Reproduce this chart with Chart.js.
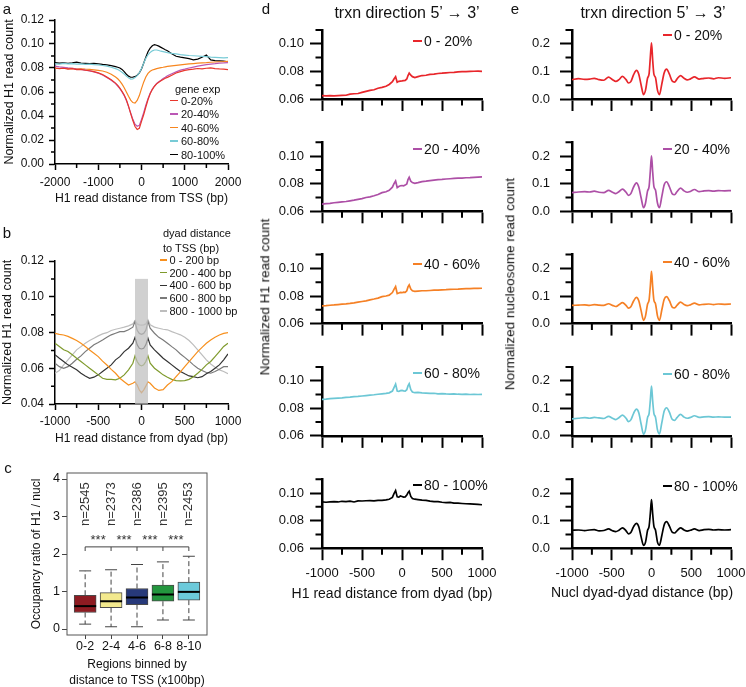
<!DOCTYPE html>
<html>
<head>
<meta charset="utf-8">
<script src="https://cdn.jsdelivr.net/npm/chart.js@4.4.1/dist/chart.umd.min.js"></script>
<style>
  html, body { margin: 0; padding: 0; background: #fff; overflow: hidden; }
  #fig { position: relative; width: 746px; height: 687px; overflow: hidden;
         font-family: "Liberation Sans", Arial, sans-serif; color: #111; }
  #fig canvas { position: absolute; left: 0; top: 0; }
  .txt { position: absolute; white-space: nowrap; line-height: 1; }
</style>
</head>
<body>
<div id="fig"></div>
<script>
// ---------- panel a : H1 profile around TSS by gene expression ----------
const aX = [-2000,-1900,-1800,-1700,-1600,-1500,-1400,-1300,-1200,-1100,-1000,-900,-800,-700,-600,
  -550,-500,-450,-400,-350,-300,-250,-200,-150,-100,-50,0,50,100,150,200,250,300,350,400,450,500,550,600,
  700,800,900,1000,1100,1200,1300,1400,1500,1600,1700,1800,1900,2000];
const aNames = ["0-20%", "20-40%", "40-60%", "60-80%", "80-100%"];
const aExp0 = [0.0800,0.0795,0.0798,0.0790,0.0794,0.0786,0.0788,0.0781,0.0777,0.0770,0.0760,0.0745,0.0724,0.0702,0.0674,
  0.0655,0.0632,0.0605,0.0575,0.0535,0.0482,0.0420,0.0362,0.0312,0.0288,0.0298,0.0355,0.0410,0.0475,0.0535,0.0585,0.0620,0.0648,0.0668,0.0682,0.0693,0.0705,0.0714,0.0722,
  0.0740,0.0758,0.0770,0.0780,0.0786,0.0790,0.0796,0.0793,0.0798,0.0801,0.0795,0.0792,0.0790,0.0786];
const aExp20 = [0.0815,0.0810,0.0806,0.0801,0.0798,0.0791,0.0788,0.0782,0.0776,0.0768,0.0757,0.0742,0.0720,0.0698,0.0670,
  0.0650,0.0628,0.0600,0.0570,0.0530,0.0478,0.0425,0.0372,0.0332,0.0315,0.0322,0.0372,0.0428,0.0490,0.0545,0.0590,0.0625,0.0650,0.0672,0.0686,0.0698,0.0712,0.0722,0.0735,
  0.0752,0.0768,0.0782,0.0790,0.0800,0.0808,0.0816,0.0822,0.0828,0.0833,0.0836,0.0840,0.0842,0.0845];
const aExp40 = [0.0798,0.0796,0.0800,0.0795,0.0797,0.0792,0.0793,0.0790,0.0788,0.0785,0.0780,0.0775,0.0765,0.0748,0.0725,
  0.0710,0.0690,0.0665,0.0636,0.0600,0.0565,0.0532,0.0512,0.0508,0.0530,0.0570,0.0628,0.0682,0.0725,0.0755,0.0773,0.0783,0.0789,0.0795,0.0799,0.0803,0.0806,0.0810,0.0813,
  0.0818,0.0822,0.0826,0.0830,0.0834,0.0837,0.0840,0.0843,0.0845,0.0848,0.0850,0.0852,0.0853,0.0855];
const aExp60 = [0.0835,0.0832,0.0838,0.0834,0.0836,0.0833,0.0835,0.0830,0.0832,0.0828,0.0826,0.0821,0.0815,0.0806,0.0795,
  0.0788,0.0778,0.0765,0.0750,0.0733,0.0718,0.0708,0.0710,0.0720,0.0736,0.0760,0.0795,0.0840,0.0880,0.0910,0.0930,0.0943,0.0950,0.0950,0.0946,0.0940,0.0936,0.0932,0.0928,
  0.0922,0.0917,0.0912,0.0908,0.0904,0.0902,0.0900,0.0897,0.0894,0.0890,0.0888,0.0886,0.0884,0.0887];
const aExp80 = [0.0845,0.0840,0.0843,0.0838,0.0842,0.0849,0.0840,0.0838,0.0836,0.0838,0.0835,0.0830,0.0826,0.0820,0.0812,
  0.0806,0.0800,0.0788,0.0770,0.0748,0.0732,0.0723,0.0724,0.0728,0.0740,0.0760,0.0792,0.0840,0.0890,0.0935,0.0965,0.0985,0.0995,0.0990,0.0982,0.0972,0.0962,0.0952,0.0944,
  0.0918,0.0898,0.0890,0.0884,0.0878,0.0868,0.0874,0.0890,0.0908,0.0868,0.0862,0.0860,0.0857,0.0852];
const aXTicks = [-2000, -1000, 0, 1000, 2000];
const aXMinor = [-1500, -500, 500, 1500];
const aYTicks = [0, 0.02, 0.04, 0.06, 0.08, 0.10, 0.12];
const aYMinor = [0.01, 0.03, 0.05, 0.07, 0.09, 0.11];

// ---------- panel b : H1 profile around dyads ----------
const bX = [-1000,-950,-900,-850,-800,-750,-700,-650,-600,-550,-500,-450,-400,-350,-300,-250,-200,-150,-100,
  -75,-50,-25,0,25,50,75,
  100,150,200,250,300,350,400,450,500,550,600,650,700,750,800,850,900,950,1000];
const bNames = ["0 - 200 bp", "200 - 400 bp", "400 - 600 bp", "600 - 800 bp", "800 - 1000 bp"];
const bD0 = [0.0795,0.0790,0.0786,0.0778,0.0767,0.0755,0.0740,0.0722,0.0702,0.0684,0.0665,0.0640,0.0618,0.0594,0.0572,0.0544,0.0525,0.0506,0.0516,
  0.0524,0.0506,0.0478,0.0463,0.0478,0.0500,0.0524,
  0.0516,0.0490,0.0476,0.0480,0.0506,0.0525,0.0553,0.0580,0.0609,0.0637,0.0665,0.0693,0.0717,0.0740,0.0758,0.0773,0.0786,0.0795,0.0799];
const bD200 = [0.0740,0.0722,0.0703,0.0694,0.0675,0.0656,0.0638,0.0619,0.0600,0.0582,0.0563,0.0544,0.0538,0.0538,0.0535,0.0544,0.0563,0.0591,0.0628,
  0.0669,0.0638,0.0619,0.0613,0.0619,0.0638,0.0669,
  0.0628,0.0600,0.0582,0.0563,0.0550,0.0538,0.0531,0.0529,0.0531,0.0538,0.0553,0.0572,0.0594,0.0619,0.0638,0.0665,0.0693,0.0722,0.0740];
const bD400 = [0.0675,0.0656,0.0638,0.0619,0.0606,0.0591,0.0572,0.0557,0.0544,0.0550,0.0563,0.0582,0.0600,0.0619,0.0647,0.0665,0.0693,0.0712,0.0740,
  0.0773,0.0731,0.0712,0.0708,0.0712,0.0731,0.0768,
  0.0731,0.0703,0.0680,0.0656,0.0638,0.0619,0.0600,0.0582,0.0569,0.0557,0.0553,0.0547,0.0553,0.0569,0.0582,0.0600,0.0619,0.0647,0.0680];
const bD600 = [0.0628,0.0609,0.0600,0.0609,0.0628,0.0650,0.0669,0.0693,0.0712,0.0731,0.0744,0.0758,0.0773,0.0787,0.0796,0.0805,0.0805,0.0815,0.0830,
  0.0861,0.0812,0.0795,0.0790,0.0795,0.0812,0.0861,
  0.0824,0.0796,0.0773,0.0758,0.0740,0.0721,0.0703,0.0680,0.0661,0.0641,0.0619,0.0600,0.0587,0.0576,0.0572,0.0582,0.0594,0.0609,0.0609];
const bD800 = [0.0572,0.0587,0.0619,0.0647,0.0675,0.0703,0.0721,0.0740,0.0755,0.0768,0.0781,0.0792,0.0799,0.0811,0.0818,0.0824,0.0830,0.0837,0.0848,
  0.0867,0.0848,0.0843,0.0841,0.0843,0.0848,0.0871,
  0.0843,0.0830,0.0824,0.0818,0.0815,0.0805,0.0796,0.0787,0.0773,0.0755,0.0731,0.0703,0.0675,0.0647,0.0624,0.0606,0.0591,0.0582,0.0569];
const bBand = [-75, 75];
const bBandTop = 0.11;
const bXTicks = [-1000, -500, 0, 500, 1000];
const bXMinor = [-750, -250, 250, 750];
const bYTicks = [0.04, 0.06, 0.08, 0.10, 0.12];
const bYMinor = [0.05, 0.07, 0.09, 0.11];

// ---------- panel c : occupancy ratio box plot ----------
const boxCats = ["0-2", "2-4", "4-6", "6-8", "8-10"];
const boxQ1 = [0.44, 0.57, 0.65, 0.74, 0.77];
const boxMed = [0.61, 0.74, 0.84, 0.92, 0.99];
const boxQ3 = [0.90, 0.97, 1.08, 1.17, 1.25];
const whiskLo = [0.13, 0.06, 0.06, 0.24, 0.24];
const whiskHi = [1.55, 1.58, 1.72, 1.79, 1.94];
const nCounts = [2545, 2373, 2386, 2395, 2453];
const cYTicks = [0, 1, 2, 3, 4];

// ---------- panel d : H1 around dyads, by expression ----------
const expNames = ["0 - 20%", "20 - 40%", "40 - 60%", "60 - 80%", "80 - 100%"];
const dX = [-1000,-950,-900,-850,-800,-750,-700,-650,-600,-550,-500,-450,-400,-350,-300,-250,-200,
  -160,-120,-100,-80,-60,-40,-20,0,20,40,60,75,90,110,130,160,
  200,250,300,350,400,450,500,550,600,650,700,750,800,850,900,950,1000];
const d0 = [0.0625,0.0622,0.0624,0.0623,0.0625,0.0626,0.0627,0.0635,0.0638,0.0640,0.0648,0.0655,0.0662,0.0667,0.0678,0.0684,0.0692,
  0.0705,0.0725,0.0745,0.0762,0.0722,0.0728,0.0730,0.0731,0.0733,0.0735,0.0745,0.0770,0.0788,0.0772,0.0762,0.0755,
  0.0762,0.0770,0.0772,0.0778,0.0780,0.0785,0.0787,0.0790,0.0792,0.0793,0.0797,0.0798,0.0799,0.0800,0.0801,0.0802,0.0800];
const d20 = [0.0652,0.0655,0.0658,0.0662,0.0665,0.0668,0.0671,0.0676,0.0681,0.0687,0.0692,0.0700,0.0705,0.0713,0.0722,0.0735,0.0742,
  0.0752,0.0775,0.0800,0.0820,0.0772,0.0780,0.0785,0.0787,0.0785,0.0790,0.0798,0.0830,0.0847,0.0818,0.0808,0.0803,
  0.0808,0.0815,0.0818,0.0822,0.0826,0.0829,0.0831,0.0834,0.0836,0.0838,0.0840,0.0841,0.0843,0.0844,0.0846,0.0848,0.0850];
const d40 = [0.0728,0.0730,0.0733,0.0735,0.0738,0.0741,0.0743,0.0746,0.0750,0.0755,0.0760,0.0765,0.0772,0.0778,0.0785,0.0795,0.0800,
  0.0806,0.0825,0.0848,0.0868,0.0818,0.0822,0.0826,0.0824,0.0828,0.0826,0.0838,0.0866,0.0880,0.0850,0.0838,0.0834,
  0.0836,0.0838,0.0838,0.0840,0.0842,0.0842,0.0845,0.0846,0.0848,0.0849,0.0850,0.0852,0.0853,0.0854,0.0855,0.0855,0.0856];
const d60 = [0.0865,0.0866,0.0870,0.0872,0.0874,0.0876,0.0879,0.0881,0.0884,0.0886,0.0889,0.0892,0.0895,0.0898,0.0902,0.0905,0.0908,
  0.0912,0.0925,0.0950,0.0975,0.0925,0.0922,0.0928,0.0930,0.0926,0.0925,0.0935,0.0962,0.0978,0.0935,0.0918,0.0913,
  0.0915,0.0912,0.0910,0.0908,0.0909,0.0905,0.0906,0.0904,0.0903,0.0904,0.0902,0.0901,0.0902,0.0900,0.0901,0.0900,0.0901];
const d80 = [0.0935,0.0933,0.0936,0.0937,0.0935,0.0940,0.0938,0.0941,0.0935,0.0943,0.0942,0.0944,0.0945,0.0943,0.0947,0.0946,0.0950,
  0.0955,0.0968,0.0995,0.1017,0.0972,0.0970,0.0978,0.0975,0.0970,0.0972,0.0985,0.1002,0.1013,0.0975,0.0960,0.0955,
  0.0952,0.0948,0.0946,0.0941,0.0938,0.0937,0.0933,0.0930,0.0932,0.0927,0.0926,0.0924,0.0922,0.0921,0.0919,0.0917,0.0915];
const dXTicks = [-1000, -500, 0, 500, 1000];
const dXMinor = [-750, -250, 250, 750];
const dYTicks = [0.06, 0.08, 0.10];
const dYMinor = [0.07, 0.09, 0.11];

// ---------- panel e : nucleosome dyad-dyad distances ----------
const eX = [-1000,-920,-840,-780,-720,-660,-600,-540,-490,-450,-410,-365,-320,-290,-260,-225,-190,-160,-130,-100,-75,-50,-30,-15,
  0,
  15,30,50,75,100,130,160,190,225,260,290,320,365,410,450,490,540,600,660,720,780,840,920,1000];
const e0 = [0.070,0.074,0.071,0.072,0.075,0.070,0.068,0.079,0.070,0.064,0.070,0.082,0.070,0.058,0.063,0.088,0.104,0.090,0.050,0.016,0.032,0.075,0.092,0.150,
  0.203,
  0.140,0.090,0.078,0.032,0.016,0.055,0.095,0.108,0.090,0.065,0.061,0.072,0.085,0.075,0.069,0.073,0.080,0.072,0.075,0.076,0.073,0.077,0.075,0.077];
const e20 = [0.068,0.070,0.071,0.070,0.073,0.069,0.068,0.076,0.069,0.064,0.071,0.080,0.069,0.058,0.064,0.088,0.103,0.088,0.048,0.013,0.030,0.073,0.090,0.145,
  0.201,
  0.142,0.090,0.077,0.030,0.013,0.054,0.096,0.107,0.089,0.064,0.060,0.071,0.084,0.074,0.069,0.072,0.079,0.071,0.074,0.075,0.073,0.075,0.074,0.075];
const e40 = [0.066,0.067,0.068,0.066,0.069,0.067,0.066,0.072,0.066,0.062,0.068,0.076,0.066,0.056,0.061,0.082,0.095,0.083,0.046,0.012,0.028,0.070,0.086,0.135,
  0.189,
  0.133,0.085,0.072,0.028,0.012,0.050,0.088,0.098,0.083,0.060,0.057,0.066,0.078,0.069,0.065,0.068,0.074,0.068,0.070,0.071,0.069,0.071,0.070,0.071];
const e60 = [0.062,0.064,0.066,0.064,0.067,0.065,0.063,0.071,0.064,0.059,0.066,0.075,0.064,0.052,0.058,0.082,0.097,0.084,0.042,0.006,0.022,0.066,0.082,0.128,
  0.180,
  0.126,0.082,0.068,0.022,0.007,0.048,0.090,0.102,0.086,0.060,0.056,0.066,0.078,0.068,0.064,0.067,0.073,0.067,0.069,0.070,0.068,0.069,0.068,0.068];
const e80 = [0.065,0.066,0.064,0.066,0.067,0.063,0.064,0.070,0.063,0.060,0.065,0.074,0.063,0.052,0.057,0.078,0.090,0.078,0.040,0.010,0.022,0.064,0.080,0.125,
  0.176,
  0.124,0.080,0.066,0.022,0.011,0.046,0.085,0.096,0.080,0.058,0.055,0.063,0.074,0.066,0.062,0.065,0.070,0.064,0.067,0.068,0.066,0.067,0.066,0.067];
const eYTicks = [0.0, 0.1, 0.2];
const eYMinor = [0.05, 0.15, 0.25];

// ---------- drawing ----------
const W = 746, H = 700;
Chart.defaults.font.family = '"Liberation Sans", Arial, sans-serif';
Chart.defaults.font.size = 12;
Chart.defaults.color = "#111";

const fig = document.getElementById("fig");
const aColors = ["#e8372d", "#bb58b5", "#f7861f", "#78cbd6", "#000000"];
const bColors = ["#f7901e", "#7f9a2c", "#333333", "#7a7a7a", "#bdbdbd"];
const dColors = ["#e8262b", "#ad4fa6", "#f58025", "#6cc7d5", "#000000"];

function addCanvas() {
  const c = document.createElement("canvas");
  c.width = W; c.height = H;
  c.style.width = W + "px"; c.style.height = H + "px";
  fig.appendChild(c);
  return c;
}

function addText(str, x, y, size, o = {}) {
  const d = document.createElement("div");
  d.className = "txt";
  d.textContent = str;
  d.style.left = x + "px";
  d.style.top = y + "px";
  d.style.fontSize = size + "px";
  const ax = o.left ? "0" : "-50%";
  d.style.transform = "translate(" + ax + ",-50%)" + (o.rotate ? " rotate(-90deg)" : "");
  fig.appendChild(d);
  return d;
}

function addLegend(names, colors, x, ys, size, len, lw, gap) {
  names.forEach((n, i) => {
    const ln = document.createElement("div");
    ln.style.cssText = "position:absolute;left:" + x + "px;top:" + (ys[i] - lw / 2) + "px;width:" + len +
      "px;height:" + lw + "px;background:" + colors[i];
    fig.appendChild(ln);
    addText(n, x + len + gap, ys[i], size, { left: true });
  });
}

// short unlabelled ticks between the labelled ones
function minorTicks(xs, ys, xLen, yLen, w) {
  return {
    id: "minorTicks",
    afterDraw(chart) {
      const { ctx, chartArea: a, scales } = chart;
      ctx.save();
      ctx.strokeStyle = "#000";
      ctx.lineWidth = w;
      ctx.beginPath();
      xs.forEach(v => {
        const p = scales.x.getPixelForValue(v);
        ctx.moveTo(p, a.bottom); ctx.lineTo(p, a.bottom + xLen);
      });
      ys.forEach(v => {
        const p = scales.y.getPixelForValue(v);
        ctx.moveTo(a.left, p); ctx.lineTo(a.left - yLen, p);
      });
      ctx.stroke();
      ctx.restore();
    }
  };
}

function lineChart(o) {
  const [l, t, r, b] = o.box;
  return new Chart(addCanvas(), {
    type: "line",
    data: {
      datasets: o.series.map((s, i) => ({
        label: o.names[i],
        data: o.x.map((x, j) => ({ x: x, y: s[j] })),
        borderColor: o.colors[i],
        borderWidth: o.lw,
        pointRadius: 0,
        fill: false,
        tension: o.smooth ? 0.4 : 0,
        cubicInterpolationMode: o.smooth ? "monotone" : "default"
      }))
    },
    options: {
      responsive: false, animation: false, devicePixelRatio: 1, events: [],
      layout: { padding: { left: l - o.yW, top: t, right: W - r, bottom: H - b - o.xH } },
      plugins: { legend: { display: false }, tooltip: { enabled: false } },
      scales: {
        x: {
          type: "linear", min: o.xMin, max: o.xMax,
          afterBuildTicks: s => { s.ticks = o.xTicks.map(v => ({ value: v })); },
          afterFit: s => { s.height = o.xH; s.paddingLeft = 0; s.paddingRight = 0; },
          ticks: { display: o.xLabels, autoSkip: false, maxRotation: 0, padding: o.xPad,
                   font: { size: o.font }, callback: v => String(v) },
          grid: { drawOnChartArea: false, tickLength: o.tl, tickWidth: o.tw, tickColor: "#000" },
          border: { color: "#000", width: o.bw },
          title: o.xTitle ? { display: true, text: o.xTitle, padding: 0, font: { size: o.titleSize } } : { display: false }
        },
        y: {
          type: "linear", min: o.yMin, max: o.yMax,
          afterBuildTicks: s => { s.ticks = o.yTicks.map(v => ({ value: v })); },
          afterFit: s => { s.width = o.yW; s.paddingTop = 0; s.paddingBottom = 0; },
          ticks: { autoSkip: false, padding: o.yPad, font: { size: o.font }, callback: v => v.toFixed(o.yDec) },
          grid: { drawOnChartArea: false, tickLength: o.tl, tickWidth: o.tw, tickColor: "#000" },
          border: { color: "#000", width: o.bw },
          title: o.yTitle ? { display: true, text: o.yTitle, padding: 0, font: { size: o.titleSize } } : { display: false }
        }
      }
    },
    plugins: [minorTicks(o.xMinor, o.yMinor, o.minorLen, o.minorLen, o.tw)].concat(o.plugins || [])
  });
}

// panel a
lineChart({
  box: [55, 20, 228, 164], yW: 53, xH: 42.5,
  x: aX, series: [aExp0, aExp20, aExp40, aExp60, aExp80], names: aNames, colors: aColors, lw: 1.2,
  xMin: -2000, xMax: 2000, xTicks: aXTicks, xMinor: aXMinor, xLabels: true, xPad: 5,
  yMin: 0, yMax: 0.12, yTicks: aYTicks, yMinor: aYMinor, yPad: 5, yDec: 2,
  tl: 6, tw: 1.5, bw: 1.5, minorLen: 4, font: 12, titleSize: 12.5,
  xTitle: "H1 read distance from TSS (bp)", yTitle: "Normalized H1 read count"
});

// panel b, grey band over the dyad
const bandPlugin = {
  id: "dyadBand",
  afterDatasetsDraw(chart) {
    const { ctx, scales: { x, y } } = chart;
    const x0 = x.getPixelForValue(bBand[0]), x1 = x.getPixelForValue(bBand[1]);
    const y0 = y.getPixelForValue(bBandTop), y1 = y.getPixelForValue(y.min);
    ctx.save();
    ctx.fillStyle = "rgba(190,190,190,0.72)";
    ctx.fillRect(x0, y0, x1 - x0, y1 - y0);
    ctx.restore();
  }
};
lineChart({
  box: [55, 261, 228, 404], yW: 55, xH: 42.5,
  x: bX, series: [bD0, bD200, bD400, bD600, bD800], names: bNames, colors: bColors, lw: 1.2,
  xMin: -1000, xMax: 1000, xTicks: bXTicks, xMinor: bXMinor, xLabels: true, xPad: 4,
  yMin: 0.04, yMax: 0.12, yTicks: bYTicks, yMinor: bYMinor, yPad: 5, yDec: 2,
  tl: 6, tw: 1.5, bw: 1.5, minorLen: 4, font: 12, titleSize: 12.5,
  xTitle: "H1 read distance from dyad (bp)", yTitle: "Normalized H1 read count",
  plugins: [bandPlugin]
});

// panel c, box plot: boxes are floating bars, the rest is drawn on the same scales
const boxColors = ["#8e1b22", "#f3e98e", "#27397a", "#23963e", "#6ccadb"];
const boxExtras = {
  id: "boxExtras",
  afterDatasetsDraw(chart) {
    const { ctx, chartArea: a, scales: { x, y } } = chart;
    ctx.save();
    ctx.strokeStyle = "#555";
    ctx.lineWidth = 1;
    ctx.strokeRect(a.left, a.top, a.right - a.left, a.bottom - a.top);
    boxCats.forEach((c, i) => {
      const px = x.getPixelForValue(i + 1);
      ctx.strokeStyle = "#444";
      ctx.lineWidth = 1;
      ctx.setLineDash([5, 3]);
      ctx.beginPath();
      ctx.moveTo(px, y.getPixelForValue(boxQ3[i])); ctx.lineTo(px, y.getPixelForValue(whiskHi[i]));
      ctx.moveTo(px, y.getPixelForValue(boxQ1[i])); ctx.lineTo(px, y.getPixelForValue(whiskLo[i]));
      ctx.stroke();
      ctx.setLineDash([]);
      ctx.beginPath();
      [whiskHi[i], whiskLo[i]].forEach(v => {
        const py = y.getPixelForValue(v);
        ctx.moveTo(px - 6, py); ctx.lineTo(px + 6, py);
      });
      ctx.stroke();
      ctx.strokeStyle = "#000";
      ctx.lineWidth = 2;
      ctx.beginPath();
      const pm = y.getPixelForValue(boxMed[i]);
      ctx.moveTo(px - 11, pm); ctx.lineTo(px + 11, pm);
      ctx.stroke();
      // sample size, rotated
      ctx.save();
      ctx.translate(px, y.getPixelForValue(3.33));
      ctx.rotate(-Math.PI / 2);
      ctx.fillStyle = "#333";
      ctx.font = '13px "Liberation Sans", Arial, sans-serif';
      ctx.textAlign = "center";
      ctx.textBaseline = "middle";
      ctx.fillText("n=" + nCounts[i], 0, 0);
      ctx.restore();
    });
    // significance bracket
    ctx.strokeStyle = "#444";
    ctx.lineWidth = 1;
    ctx.beginPath();
    const by = y.getPixelForValue(2.19), bt = y.getPixelForValue(2.08);
    ctx.moveTo(x.getPixelForValue(1), by); ctx.lineTo(x.getPixelForValue(5), by);
    boxCats.forEach((c, i) => {
      const px = x.getPixelForValue(i + 1);
      ctx.moveTo(px, by); ctx.lineTo(px, bt);
    });
    ctx.stroke();
    ctx.fillStyle = "#333";
    ctx.font = '13px "Liberation Sans", Arial, sans-serif';
    ctx.textAlign = "center";
    ctx.textBaseline = "middle";
    for (let i = 1; i < boxCats.length; i++) {
      ctx.fillText("***", x.getPixelForValue(i + 0.5), y.getPixelForValue(2.36));
    }
    ctx.restore();
  }
};
new Chart(addCanvas(), {
  type: "bar",
  data: {
    datasets: [{
      data: boxCats.map((c, i) => ({ x: i + 1, y: [boxQ1[i], boxQ3[i]] })),
      backgroundColor: boxColors,
      borderColor: "#4a4a4a",
      borderWidth: 1,
      borderSkipped: false,
      barThickness: 22
    }]
  },
  options: {
    responsive: false, animation: false, devicePixelRatio: 1, events: [],
    layout: { padding: { left: 67 - 37.2, top: 473, right: W - 207, bottom: H - 635 - 53 } },
    plugins: { legend: { display: false }, tooltip: { enabled: false } },
    scales: {
      x: {
        type: "linear", min: 0.3, max: 5.7, offset: false,
        afterBuildTicks: s => { s.ticks = boxCats.map((c, i) => ({ value: i + 1 })); },
        afterFit: s => { s.height = 53; s.paddingLeft = 0; s.paddingRight = 0; },
        ticks: { autoSkip: false, maxRotation: 0, padding: 0, font: { size: 12.5 }, callback: v => boxCats[v - 1] },
        grid: { offset: false, drawOnChartArea: false, tickLength: 4, tickColor: "#444" },
        border: { display: false },
        title: { display: true, text: ["Regions binned by", "distance to TSS (x100bp)"], padding: 0,
                 font: { size: 12, lineHeight: 1.3 } }
      },
      y: {
        type: "linear", min: -0.16, max: 4.16,
        afterBuildTicks: s => { s.ticks = cYTicks.map(v => ({ value: v })); },
        afterFit: s => { s.width = 37.2; s.paddingTop = 0; s.paddingBottom = 0; },
        ticks: { autoSkip: false, padding: 2, font: { size: 12.5 }, callback: v => String(v) },
        grid: { drawOnChartArea: false, tickLength: 5, tickColor: "#444" },
        border: { display: false },
        title: { display: true, text: "Occupancy ratio of H1 / nucl", padding: 0, font: { size: 12 } }
      }
    }
  },
  plugins: [boxExtras]
});

// panels d and e, five stacked plots each
const dSeries = [d0, d20, d40, d60, d80];
const eSeries = [e0, e20, e40, e60, e80];
const subTops = [30, 142.3, 254.6, 366.9, 479.2];
for (let k = 0; k < 5; k++) {
  const last = k === 4;
  const t = subTops[k];
  lineChart({
    box: [322, t, 482, t + 69], yW: 60, xH: last ? 40 : 20,
    x: dX, series: [dSeries[k]], names: [expNames[k]], colors: [dColors[k]], lw: 1.7,
    xMin: -1000, xMax: 1000, xTicks: dXTicks, xMinor: dXMinor, xLabels: last, xPad: 5,
    yMin: 0.06, yMax: 0.11, yTicks: dYTicks, yMinor: dYMinor, yPad: 6, yDec: 2,
    tl: 12, tw: 2, bw: 2.5, minorLen: 6.5, font: 13
  });
  lineChart({
    box: [572, t, 731, t + 69], yW: 60, xH: last ? 40 : 20,
    x: eX, series: [eSeries[k]], names: [expNames[k]], colors: [dColors[k]], lw: 1.7, smooth: true,
    xMin: -1000, xMax: 1000, xTicks: dXTicks, xMinor: dXMinor, xLabels: last, xPad: 5,
    yMin: 0, yMax: 0.25, yTicks: eYTicks, yMinor: eYMinor, yPad: 10, yDec: 1,
    tl: 12, tw: 2, bw: 2.5, minorLen: 6.5, font: 13
  });
}

// ---------- text and legends ----------
addText("a", 7, 8, 15);
addText("b", 7, 232, 15);
addText("c", 8, 467, 15);
addText("d", 266, 8, 15);
addText("e", 515, 8, 15);

addText("gene exp", 175, 89, 11, { left: true });
addLegend(aNames, aColors, 170, [100.5, 114, 127.5, 141, 154.5], 11, 8, 1.5, 3);

addText("dyad distance", 163, 233, 11, { left: true });
addText("to TSS (bp)", 163, 248, 11, { left: true });
addLegend(bNames, bColors, 160, [260, 272.7, 285.4, 298, 311], 11, 7, 1.5, 2.5);

addText("trxn direction 5\u2019 \u2192 3\u2019", 407, 13, 16);
addText("trxn direction 5\u2019 \u2192 3\u2019", 653, 13, 16);
const dLegY = [41, 149, 264, 373, 485];
const eLegY = [35, 149, 262, 374, 486];
for (let k = 0; k < 5; k++) {
  addLegend([expNames[k]], [dColors[k]], 413, [dLegY[k]], 14, 9, 2, 2);
  addLegend([expNames[k]], [dColors[k]], 663, [eLegY[k]], 14, 9, 2, 2);
}
addText("Normalized H1 read count", 265, 297, 13.5, { rotate: true });
addText("Normalized nucleosome read count", 510, 284, 13.5, { rotate: true });
addText("H1 read distance from dyad (bp)", 392, 593, 14);
addText("Nucl dyad-dyad distance (bp)", 642, 592, 14);
</script>
</body>
</html>
